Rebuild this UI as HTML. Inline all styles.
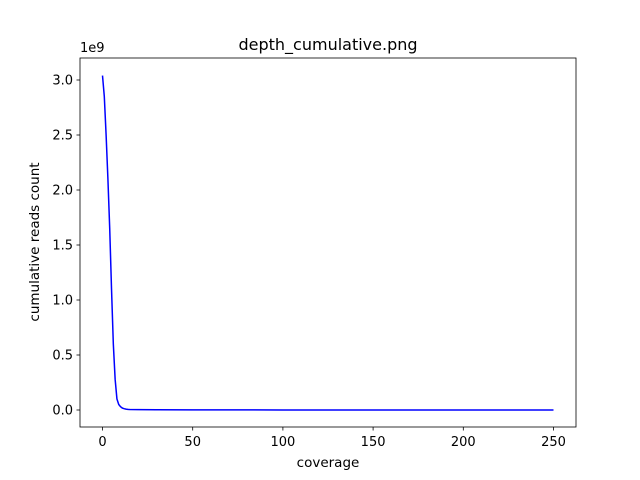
<!DOCTYPE html>
<html><head><meta charset="utf-8"><style>
body{margin:0;background:#fff;}
svg{display:block;font-family:"DejaVu Sans","Liberation Sans",sans-serif;}
</style></head><body>
<svg id="chart" width="640" height="480">
<rect width="640" height="480" fill="#fff"/>
<text x="328" y="50" font-size="16" text-anchor="middle">depth_cumulative.png</text>
<g id="xt"></g>
<g id="yt"></g>
<path id="line" fill="none" stroke="#0000ff" stroke-width="1.5"/>
<rect x="80" y="58" width="496" height="369" fill="none" stroke="#000" stroke-width="0.8"/>
<text x="328" y="467" font-size="13.5" text-anchor="middle">coverage</text>
<text transform="translate(39,242) rotate(-90)" font-size="13.5" text-anchor="middle">cumulative reads count</text>
<text x="80" y="52" font-size="13">1e9</text>
</svg>
<script>
const coverage=[0,1,2,3,4,5,6,7,8,9,10,11,12,13,14,15,20,30,50,100,250];
const reads=[3.04,2.85,2.5,2.1,1.65,1.1,0.6,0.28,0.1,0.05,0.03,0.018,0.012,0.008,0.006,0.005,0.003,0.002,0.001,0.0005,0];
const xTicks=[0,50,100,150,200,250];
const yTicks=[0,0.5,1,1.5,2,2.5,3];
const yLabels=["0.0","0.5","1.0","1.5","2.0","2.5","3.0"];
const X=v=>102.5+v*1.804;
const Y=v=>410-v*110;
const ns="http://www.w3.org/2000/svg";
const xt=document.getElementById('xt'),yt=document.getElementById('yt');
xTicks.forEach(t=>{
 const l=document.createElementNS(ns,'line');
 
 
 l.setAttribute('x1',X(t));l.setAttribute('x2',X(t));l.setAttribute('y1',427);l.setAttribute('y2',430.5);l.setAttribute('stroke','#000');l.setAttribute('stroke-width','0.8');xt.appendChild(l);
 const s=document.createElementNS(ns,'text');
 
 
 s.setAttribute('x',X(t));s.setAttribute('y',446);s.setAttribute('font-size','13');s.setAttribute('text-anchor','middle');s.textContent=t;xt.appendChild(s);
});
yTicks.forEach((t,i)=>{
 const l=document.createElementNS(ns,'line');
 
 
 l.setAttribute('x1',76.5);l.setAttribute('x2',80);l.setAttribute('y1',Y(t));l.setAttribute('y2',Y(t));l.setAttribute('stroke','#000');l.setAttribute('stroke-width','0.8');yt.appendChild(l);
 const s=document.createElementNS(ns,'text');
 
 
 s.setAttribute('x',73);s.setAttribute('y',Y(t)+4.5);s.setAttribute('font-size','13');s.setAttribute('text-anchor','end');s.textContent=yLabels[i];yt.appendChild(s);
});
document.getElementById('line').setAttribute('d',coverage.map((c,i)=>(i?'L':'M')+X(c)+','+Y(reads[i])).join(''));
</script>
</body></html>
